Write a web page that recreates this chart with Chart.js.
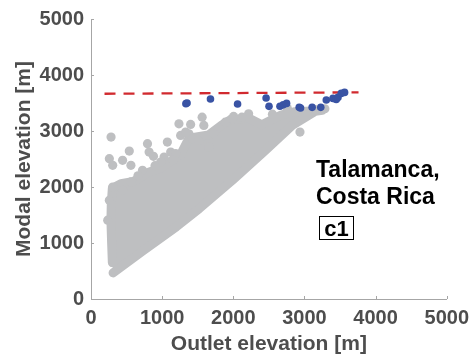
<!DOCTYPE html>
<html>
<head>
<meta charset="utf-8">
<script src="https://cdn.jsdelivr.net/npm/chart.js@4"></script>
<style>
  html, body { margin: 0; padding: 0; background: #fff; }
  #wrap { width: 476px; height: 360px; }
</style>
</head>
<body>
<div id="wrap"><canvas id="chartElev" width="476" height="360"></canvas></div>
<script>
// Outer envelope of the dense cloud of basins (dot centres)
const coreX = [310, 720, 1200, 1525, 1990, 2455, 2828, 3150, 3250, 3180, 2867, 2680, 2401, 2215, 1958, 1842, 1655, 1376, 1260, 980, 800, 600, 420, 300, 285, 280, 290, 300];
const coreY = [466, 850, 1290, 1617, 2123, 2657, 3100, 3350, 3370, 3360, 3345, 3290, 3110, 3230, 3200, 3110, 2930, 2870, 2580, 2340, 2260, 2100, 2060, 1980, 1700, 1400, 1000, 650];

// Scattered grey basins outside the envelope
const greyX = [282, 258, 305, 444, 538, 561, 794, 817, 878, 1073, 1120, 1190, 1236, 1260, 1562, 1586, 1376, 1422, 1516, 1888, 2004, 2215, 724, 561, 305, 444, 1027, 980, 2937, 235, 258, 1400, 1725, 1981, 2121, 1655, 1330, 3150, 3287, 2550, 2760, 660, 900, 1150];
const greyY = [2891, 2506, 2387, 2476, 2642, 2387, 2773, 2624, 2547, 2802, 2624, 2595, 3129, 2921, 3247, 3099, 2951, 2862, 2832, 3158, 3260, 3308, 2298, 2090, 2000, 1942, 2535, 2446, 2980, 1407, 1763, 3117, 2951, 3218, 3247, 2713, 2980, 3380, 3397, 3300, 3400, 2200, 2380, 2480];

// Basins at the plateau level
const blueX = [1334, 1350, 1679, 2060, 2461, 2502, 2656, 2702, 2749, 2926, 2945, 3108, 3229, 3307, 3401, 3447, 3471, 3517, 3564];
const blueY = [3488, 3500, 3571, 3482, 3589, 3440, 3443, 3470, 3493, 3422, 3410, 3422, 3422, 3553, 3582, 3564, 3600, 3671, 3689];

// Plateau level
const plateauX = [190, 3760];
const plateauY = [3665, 3690];

const TICKS = [0, 1000, 2000, 3000, 4000, 5000];

const GREY = '#bebfc1';
const BLUE = '#3953a4';
const RED = '#d12a2f';
const TEXT_GREY = '#4d4d4d';
const FONT = '"Liberation Sans", Arial, Helvetica, sans-serif';

function toPoints(xs, ys) {
    return xs.map(function (x, i) { return { x: x, y: ys[i] }; });
}

const labelsPlugin = {
    id: 'labels',
    afterDraw: function (chart) {
        const ctx = chart.ctx;
        const xs = chart.scales.x;
        const ys = chart.scales.y;
        const area = chart.chartArea;
        ctx.save();

        // inward tick marks
        ctx.strokeStyle = '#a6a6a6';
        ctx.lineWidth = 1;
        ctx.beginPath();
        TICKS.forEach(function (t) {
            const px = Math.round(xs.getPixelForValue(t)) + 0.5;
            ctx.moveTo(px, area.bottom);
            ctx.lineTo(px, area.bottom - 3);
            const py = Math.round(ys.getPixelForValue(t)) + 0.5;
            ctx.moveTo(area.left, py);
            ctx.lineTo(area.left + 3, py);
        });
        ctx.stroke();

        // axis titles
        ctx.fillStyle = TEXT_GREY;
        ctx.font = 'bold 21px ' + FONT;
        ctx.textAlign = 'center';
        ctx.textBaseline = 'alphabetic';
        ctx.fillText('Outlet elevation [m]', (area.left + area.right) / 2, 350);
        ctx.save();
        ctx.translate(29.5, (area.top + area.bottom) / 2);
        ctx.rotate(-Math.PI / 2);
        ctx.fillText('Modal elevation [m]', 0, 0);
        ctx.restore();

        // region label
        ctx.fillStyle = '#000';
        ctx.textAlign = 'left';
        ctx.font = 'bold 23px ' + FONT;
        ctx.fillText('Talamanca,', 316, 176.7);
        ctx.fillText('Costa Rica', 316, 204.3);
        ctx.strokeStyle = '#000';
        ctx.lineWidth = 1;
        ctx.strokeRect(319.5, 216.5, 34, 23);
        ctx.font = 'bold 22px ' + FONT;
        ctx.textAlign = 'center';
        ctx.fillText('c1', 336.5, 236);
        ctx.restore();
    }
};

const tickFont = { family: FONT, size: 20, weight: 'bold' };
const plainLabel = function (v) { return String(v); };

document.addEventListener('DOMContentLoaded', function () {
    const canvas = document.getElementById('chartElev');
    new Chart(canvas, {
        type: 'scatter',
        data: {
            datasets: [
                {
                    label: 'plateau basins',
                    data: toPoints(blueX, blueY),
                    backgroundColor: BLUE,
                    borderWidth: 0,
                    pointRadius: 3.8,
                    order: 0,
                },
                {
                    type: 'line',
                    label: 'plateau level',
                    data: toPoints(plateauX, plateauY),
                    borderColor: RED,
                    borderWidth: 2.3,
                    borderDash: [11, 8],
                    pointRadius: 0,
                    fill: false,
                    order: 1,
                },
                {
                    label: 'basins',
                    data: toPoints(greyX, greyY),
                    backgroundColor: GREY,
                    borderWidth: 0,
                    pointRadius: 4.6,
                    order: 2,
                },
                {
                    type: 'line',
                    label: 'basins (dense)',
                    data: toPoints(coreX, coreY),
                    borderColor: GREY,
                    backgroundColor: GREY,
                    borderWidth: 9,
                    borderJoinStyle: 'round',
                    borderCapStyle: 'round',
                    pointRadius: 0,
                    tension: 0,
                    fill: 'shape',
                    order: 3,
                },
            ],
        },
        options: {
            responsive: false,
            animation: false,
            events: [],
            layout: { padding: { top: 18, right: 27, left: 0, bottom: 0 } },
            plugins: {
                legend: { display: false },
                tooltip: { enabled: false },
            },
            scales: {
                x: {
                    type: 'linear',
                    min: 0,
                    max: 5000,
                    afterFit: function (s) { s.height = 61; },
                    ticks: { stepSize: 1000, padding: 7, color: TEXT_GREY, font: tickFont, callback: plainLabel },
                    grid: { display: false, drawTicks: false },
                    border: { display: true, color: '#a6a6a6', width: 1 },
                },
                y: {
                    type: 'linear',
                    min: 0,
                    max: 5000,
                    afterFit: function (s) { s.width = 91; },
                    ticks: { stepSize: 1000, padding: 7, color: TEXT_GREY, font: tickFont, callback: plainLabel },
                    grid: { display: false, drawTicks: false },
                    border: { display: true, color: '#a6a6a6', width: 1 },
                },
            },
        },
        plugins: [labelsPlugin],
    });
});
</script>
</body>
</html>
